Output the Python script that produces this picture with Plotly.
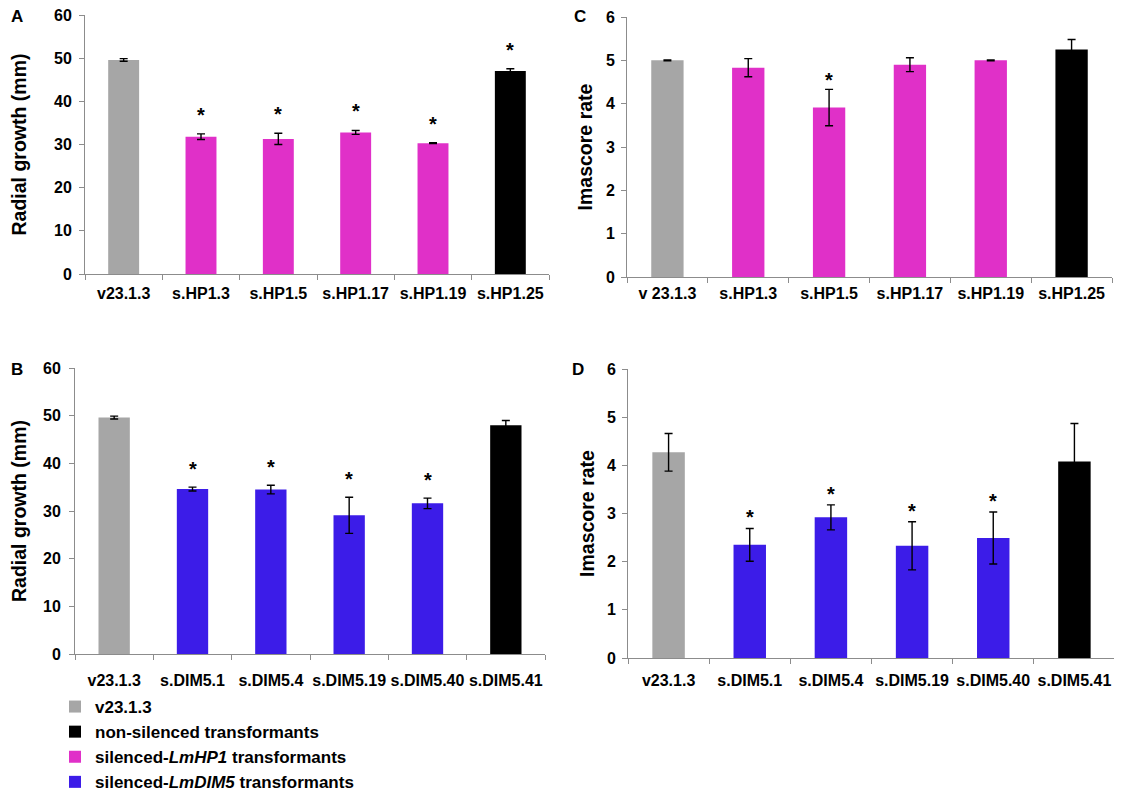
import plotly.graph_objects as go

# ---------------- data ----------------
hp_labels_A = ["v23.1.3", "s.HP1.3", "s.HP1.5", "s.HP1.17", "s.HP1.19", "s.HP1.25"]
hp_labels_C = ["v 23.1.3", "s.HP1.3", "s.HP1.5", "s.HP1.17", "s.HP1.19", "s.HP1.25"]
dim_labels = ["v23.1.3", "s.DIM5.1", "s.DIM5.4", "s.DIM5.19", "s.DIM5.40", "s.DIM5.41"]
groups_hp = ["wt", "hp1", "hp1", "hp1", "hp1", "non"]
groups_dim = ["wt", "dim5", "dim5", "dim5", "dim5", "non"]

growth_hp = [49.6, 31.8, 31.3, 32.8, 30.3, 47.0]
growth_hp_err = [0.3, 0.65, 1.3, 0.45, 0.1, 0.55]
growth_hp_star = [False, True, True, True, True, True]

imascore_hp = [5.0, 4.83, 3.91, 4.90, 5.0, 5.25]
imascore_hp_err = [0.01, 0.21, 0.42, 0.16, 0.01, 0.23]
imascore_hp_star = [False, False, True, False, False, False]

growth_dim = [49.6, 34.6, 34.5, 29.1, 31.6, 48.0]
growth_dim_err = [0.3, 0.4, 0.9, 3.8, 1.1, 1.0]
growth_dim_star = [False, True, True, True, True, False]

imascore_dim = [4.27, 2.35, 2.92, 2.33, 2.49, 4.08]
imascore_dim_err = [0.39, 0.34, 0.26, 0.5, 0.54, 0.79]
imascore_dim_star = [False, True, True, True, True, False]

legend_names = {
    "wt": "v23.1.3",
    "non": "non-silenced transformants",
    "hp1": "silenced-<i>LmHP1</i> transformants",
    "dim5": "silenced-<i>LmDIM5</i> transformants",
}

# ---------------- style / layout ----------------
FONT = "Arial, Liberation Sans, sans-serif"
colors = {"wt": "#a6a6a6", "non": "#000000", "hp1": "#e030c8", "dim5": "#3c1ce8"}
ranks = {"wt": 1, "non": 2, "hp1": 3, "dim5": 4}
AXIS_COLOR = "#8c8c8c"

# the page adds an 8px body margin, so the figure is made 16px smaller
OFF = 8
W, H = 1122 - OFF, 800 - OFF


def px(X):
    return (X - OFF) / W


def py(Y):
    return 1 - (Y - OFF) / H


fig = go.Figure()

panels = [
    # letter, axis id, labels, groups, values, errors, stars, ymax, dtick, ytitle,
    # x-domain px, y-domain px, star shift, title standoff, xlabel standoff, ylabel standoff, letter pos
    ("A", "", hp_labels_A, groups_hp, growth_hp, growth_hp_err, growth_hp_star, 60, 10,
     "Radial growth (mm)", [85, 549], [15, 274], 6, 27, 5, 4, (17, 17)),
    ("C", "2", hp_labels_C, groups_hp, imascore_hp, imascore_hp_err, imascore_hp_star, 6, 1,
     "Imascore rate", [627, 1112], [17, 277], -4, 8, 2, 3, (580, 17)),
    ("B", "3", dim_labels, groups_dim, growth_dim, growth_dim_err, growth_dim_star, 60, 10,
     "Radial growth (mm)", [75, 545], [368, 654], 5, 18, 12, 5, (17, 369)),
    ("D", "4", dim_labels, groups_dim, imascore_dim, imascore_dim_err, imascore_dim_star, 6, 1,
     "Imascore rate", [628, 1115], [369, 658], -2, 7, 8, 3, (578, 369)),
]

shown = set()
annotations = []
for (letter, ax, labels, groups, vals, errs, stars, ymax, dtick, ytitle,
     xd, yd, sshift, standoff, xls, yls, lpos) in panels:
    xa = "x" + ax
    ya = "y" + ax
    for g in ["wt", "hp1", "dim5", "non"]:
        idx = [i for i, gg in enumerate(groups) if gg == g]
        if not idx:
            continue
        fig.add_trace(go.Bar(
            x=[labels[i] for i in idx],
            y=[vals[i] for i in idx],
            error_y=dict(type="data", array=[errs[i] for i in idx], color="black",
                         thickness=1.4, width=4),
            marker=dict(color=colors[g], line=dict(width=0)),
            name=legend_names[g],
            legendgroup=g,
            legendrank=ranks[g],
            showlegend=g not in shown,
            xaxis=xa, yaxis=ya,
        ))
        shown.add(g)
    for i, s in enumerate(stars):
        if s:
            annotations.append(dict(
                x=labels[i], y=vals[i] + errs[i], xref=xa, yref=ya,
                text="<b>*</b>", showarrow=False, yanchor="bottom", yshift=sshift,
                font=dict(family=FONT, size=20, color="black"),
            ))
    annotations.append(dict(
        x=px(lpos[0]), y=py(lpos[1]),
        xref="paper", yref="paper", text="<b>%s</b>" % letter, showarrow=False,
        xanchor="center", yanchor="middle", font=dict(family=FONT, size=17, color="black"),
    ))
    fig.update_layout(**{
        "xaxis" + ax: dict(
            domain=[px(xd[0]), px(xd[1])], anchor=ya, type="category",
            categoryorder="array", categoryarray=labels,
            showline=True, linecolor=AXIS_COLOR, linewidth=1,
            ticks="outside", tickson="boundaries", ticklen=5, tickcolor=AXIS_COLOR,
            showgrid=False, zeroline=False, tickangle=0, ticklabelstandoff=xls,
            automargin=False, ticklabeloverflow="allow",
            tickfont=dict(family=FONT, size=16, color="black", weight="bold"),
        ),
        "yaxis" + ax: dict(
            domain=[py(yd[1]), py(yd[0])], anchor=xa,
            range=[0, ymax], dtick=dtick, tick0=0,
            showline=True, linecolor=AXIS_COLOR, linewidth=1,
            ticks="outside", ticklen=5, tickcolor=AXIS_COLOR,
            showgrid=False, zeroline=False, ticklabelstandoff=yls,
            automargin=False, ticklabeloverflow="allow",
            tickfont=dict(family=FONT, size=16, color="black", weight="bold"),
            title=dict(text=ytitle, standoff=standoff,
                       font=dict(family=FONT, size=19.5, color="black", weight="bold")),
        ),
    })

fig.update_layout(
    width=W, height=H,
    margin=dict(l=0, r=0, t=0, b=0, autoexpand=False),
    paper_bgcolor="white", plot_bgcolor="white",
    barmode="overlay", bargap=0.6,
    annotations=annotations,
    showlegend=True,
    legend=dict(
        x=px(55), y=0, xanchor="left", yanchor="bottom",
        font=dict(family=FONT, size=17, color="black", weight="bold"),
        traceorder="normal", tracegroupgap=0, itemwidth=30,
        bgcolor="rgba(0,0,0,0)",
    ),
    font=dict(family=FONT),
)

fig.write_html("out.html")
